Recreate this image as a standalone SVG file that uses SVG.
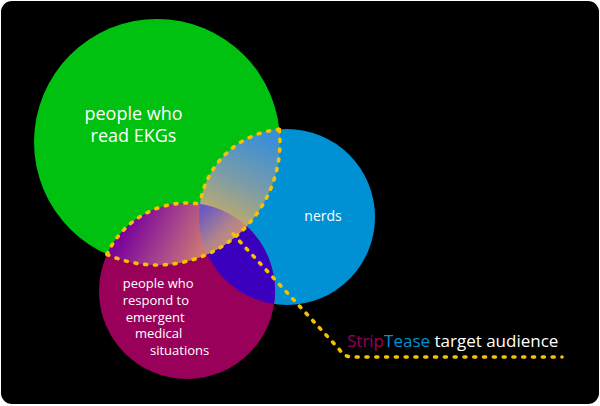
<svg xmlns="http://www.w3.org/2000/svg" width="600" height="406" viewBox="0 0 600 406">
  <style>
    .lbl { font-family: "Open Sans", "Noto Sans", "Liberation Sans", sans-serif; fill: #ffffff; }
    .dots { fill: none; stroke: #f6c200; stroke-width: 3.6; stroke-linecap: round; stroke-dasharray: 2 7.8; }
  </style>
  <defs>
    <clipPath id="clipG"><circle cx="157" cy="142" r="123"/></clipPath>
    <clipPath id="clipB"><circle cx="287" cy="217" r="88"/></clipPath>
    <clipPath id="clipM"><circle cx="187" cy="291" r="88"/></clipPath>
    <linearGradient id="gUpper" gradientUnits="userSpaceOnUse" x1="272" y1="140" x2="228" y2="232">
      <stop offset="0" stop-color="#3a8fd6"/>
      <stop offset="0.5" stop-color="#7a9ca8"/>
      <stop offset="1" stop-color="#cfae5e"/>
    </linearGradient>
    <linearGradient id="gLower" gradientUnits="userSpaceOnUse" x1="135" y1="212" x2="215" y2="252">
      <stop offset="0" stop-color="#7c049c"/>
      <stop offset="0.5" stop-color="#a8488a"/>
      <stop offset="1" stop-color="#d88a6c"/>
    </linearGradient>
    <linearGradient id="gTriple" gradientUnits="userSpaceOnUse" x1="202" y1="210" x2="240" y2="248">
      <stop offset="0" stop-color="#6a58c4"/>
      <stop offset="0.55" stop-color="#b0848c"/>
      <stop offset="1" stop-color="#d99068"/>
    </linearGradient>
  </defs>

  <rect x="0" y="0" width="600" height="406" fill="#ffffff"/>
  <rect id="background" x="1" y="1" width="598" height="403" rx="11" ry="11" fill="#000000"/>

  <g id="node-ekg">
    <circle cx="157" cy="142" r="123" fill="#00c10f"/>
    <text class="lbl" font-size="18" text-anchor="middle" x="133.5" y="120">people who</text>
    <text class="lbl" font-size="18" text-anchor="middle" x="133.5" y="142">read EKGs</text>
  </g>

  <g id="node-nerds">
    <circle cx="287" cy="217" r="88" fill="#0091d5"/>
    <text class="lbl" font-size="14" text-anchor="middle" x="323" y="221">nerds</text>
  </g>

  <g id="node-responders">
    <circle cx="187" cy="291" r="88" fill="#99005a"/>
    <text class="lbl" font-size="13">
      <tspan x="122.7" y="288.3">people who</tspan>
      <tspan x="122.7" y="305">respond to</tspan>
      <tspan x="125.7" y="321.7">emergent</tspan>
      <tspan x="135" y="338.3">medical</tspan>
      <tspan x="150" y="355">situations</tspan>
    </text>
  </g>

  <g id="overlaps">
    <g clip-path="url(#clipB)">
      <circle cx="187" cy="291" r="88" fill="#3a00be"/>
    </g>
    <g clip-path="url(#clipG)">
      <circle cx="287" cy="217" r="88" fill="url(#gUpper)"/>
    </g>
    <g clip-path="url(#clipG)">
      <circle cx="187" cy="291" r="88" fill="url(#gLower)"/>
    </g>
    <g clip-path="url(#clipG)">
      <g clip-path="url(#clipB)">
        <circle cx="187" cy="291" r="88" fill="url(#gTriple)"/>
      </g>
    </g>
  </g>

  <g id="highlight">
    <path class="dots" d="M107,254.4 A123,123 0 0 0 279.3,129.4"/>
    <path class="dots" d="M279.3,129.4 A88,88 0 0 0 200,204"/>
    <path class="dots" d="M107,254.4 A88,88 0 0 1 200,204"/>
  </g>

  <g id="connectors">
    <path class="dots" d="M233,234 L339,349 Q344,357 352,357 L562,357"/>
  </g>

  <g id="label-target">
    <text class="lbl" font-size="17" x="347" y="347"><tspan fill="#9a005e">Strip</tspan><tspan fill="#0091d5">Tease</tspan> target audience</text>
  </g>
</svg>
